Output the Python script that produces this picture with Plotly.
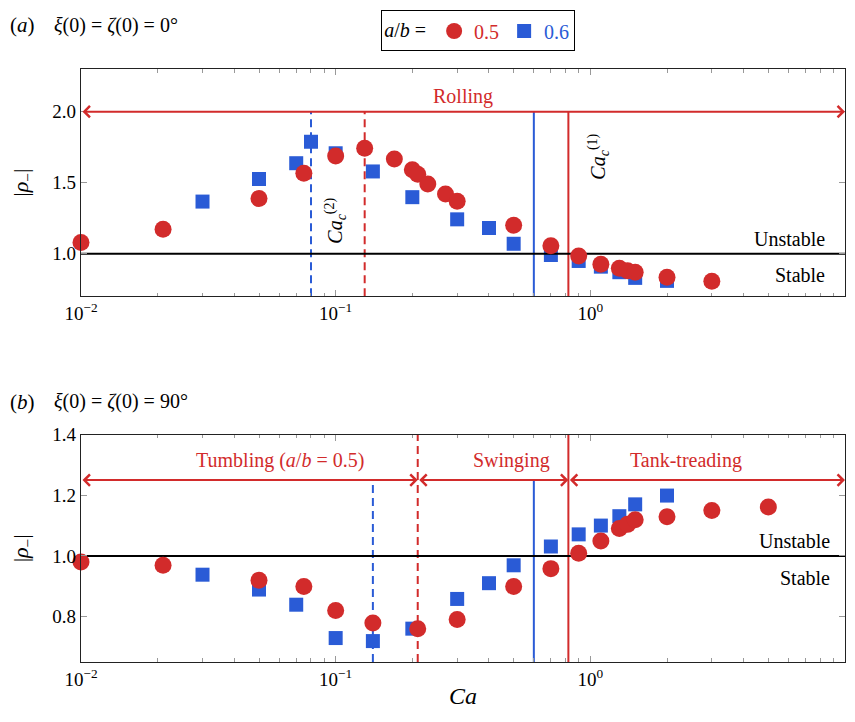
import numpy as np
import plotly.graph_objects as go

# ---------------- data ----------------
# panel (a): xi(0)=zeta(0)=0 deg
ca_a_05 = [0.01, 0.021, 0.05, 0.075, 0.1, 0.13, 0.17, 0.2, 0.21, 0.23, 0.27, 0.3,
           0.5, 0.7, 0.9, 1.1, 1.3, 1.4, 1.5, 2.0, 3.0]
rho_a_05 = [1.079, 1.172, 1.388, 1.567, 1.688, 1.742, 1.667, 1.591, 1.560, 1.491, 1.421, 1.370,
            1.200, 1.056, 0.984, 0.926, 0.898, 0.881, 0.870, 0.835, 0.807]
ca_a_06 = [0.03, 0.05, 0.07, 0.08, 0.1, 0.14, 0.2, 0.3, 0.4, 0.5, 0.7, 0.9, 1.1, 1.3, 1.5, 2.0]
rho_a_06 = [1.367, 1.526, 1.637, 1.788, 1.707, 1.579, 1.398, 1.242, 1.181, 1.070, 0.991,
            0.949, 0.909, 0.870, 0.830, 0.809]

# panel (b): xi(0)=zeta(0)=90 deg
ca_b_05 = [0.01, 0.021, 0.05, 0.075, 0.1, 0.14, 0.21, 0.3, 0.5, 0.7, 0.9, 1.1, 1.3, 1.4, 1.5,
           2.0, 3.0, 5.0]
rho_b_05 = [0.980, 0.969, 0.920, 0.899, 0.820, 0.779, 0.760, 0.790, 0.899, 0.958, 1.009,
            1.049, 1.090, 1.104, 1.119, 1.129, 1.150, 1.161]
ca_b_06 = [0.03, 0.05, 0.07, 0.1, 0.14, 0.2, 0.3, 0.4, 0.5, 0.7, 0.9, 1.1, 1.3, 1.5, 2.0]
rho_b_06 = [0.938, 0.889, 0.839, 0.729, 0.719, 0.760, 0.858, 0.910, 0.969, 1.031, 1.071,
            1.100, 1.131, 1.170, 1.199]

# critical capillary numbers
ca_c1 = {"0.5": 0.82, "0.6": 0.6}
ca_c2_a = {"0.5": 0.13, "0.6": 0.08}
ca_c2_b = {"0.5": 0.21, "0.6": 0.14}

x_range = [0.01, 10]
ya_range = [0.7, 2.3]
yb_range = [0.65, 1.4]
ya_ticks = [1.0, 1.5, 2.0]
yb_ticks = [0.8, 1.0, 1.2, 1.4]
x_ticks = [0.01, 0.1, 1, 10]
x_ticktext = ["10<sup>−2</sup>", "10<sup>−1</sup>", "10<sup>0</sup>", "10<sup>1</sup>"]
arrow_a = 2.0
arrow_b = 1.25

RED = "#D22B2B"
BLUE = "#2A5BD6"
FONT = "Liberation Serif"

fig = go.Figure()

def vline(x, y0, y1, color, dash, xa, ya):
    fig.add_trace(go.Scatter(x=[x, x], y=[y0, y1], mode="lines",
                             line=dict(color=color, width=2, dash=dash),
                             xaxis=xa, yaxis=ya, showlegend=False, hoverinfo="skip"))

# panel a vertical lines
vline(ca_c2_a["0.6"], ya_range[0], arrow_a, BLUE, "8px,5px", "x", "y")
vline(ca_c2_a["0.5"], ya_range[0], arrow_a, RED, "8px,5px", "x", "y")
vline(ca_c1["0.6"], ya_range[0], arrow_a, BLUE, "solid", "x", "y")
vline(ca_c1["0.5"], ya_range[0], arrow_a, RED, "solid", "x", "y")
# panel b vertical lines
vline(ca_c2_b["0.6"], yb_range[0], arrow_b, BLUE, "8px,5px", "x2", "y2")
vline(ca_c2_b["0.5"], yb_range[0], yb_range[1], RED, "8px,5px", "x2", "y2")
vline(ca_c1["0.6"], yb_range[0], arrow_b, BLUE, "solid", "x2", "y2")
vline(ca_c1["0.5"], yb_range[0], yb_range[1], RED, "solid", "x2", "y2")

red_m = dict(symbol="circle", size=17, color=RED, line=dict(width=0))
blue_m = dict(symbol="square", size=14, color=BLUE, line=dict(width=0))

for xa, ya, c6, r6, c5, r5, show in [("x", "y", ca_a_06, rho_a_06, ca_a_05, rho_a_05, True),
                                      ("x2", "y2", ca_b_06, rho_b_06, ca_b_05, rho_b_05, False)]:
    fig.add_trace(go.Scatter(x=c6, y=r6, mode="markers", marker=blue_m, xaxis=xa, yaxis=ya,
                             name=f'<span style="color:{BLUE}">0.6</span>', showlegend=show,
                             legendrank=2, cliponaxis=False))
    fig.add_trace(go.Scatter(x=x_range, y=[1, 1], mode="lines", line=dict(color="black", width=2),
                             xaxis=xa, yaxis=ya, showlegend=False, hoverinfo="skip"))
    fig.add_trace(go.Scatter(x=c5, y=r5, mode="markers", marker=red_m, xaxis=xa, yaxis=ya,
                             name=f'<span style="color:{RED}">0.5</span>', showlegend=show,
                             legendrank=1, cliponaxis=False))

axis_common = dict(showline=True, mirror="allticks", linecolor="#222", linewidth=1.3,
                   ticks="inside", tickcolor="#999", ticklen=6, tickwidth=1,
                   showgrid=False, zeroline=False, automargin=False,
                   tickfont=dict(family=FONT, size=19, color="black"))
minor_vals = [m * 10.0 ** e for e in (-2, -1, 0) for m in range(2, 10)]
xaxis_common = dict(axis_common, type="log", range=[np.log10(x_range[0]), np.log10(x_range[1])],
                    tickvals=x_ticks, ticktext=x_ticktext,
                    minor=dict(tickvals=minor_vals, ticks="inside", ticklen=3.5,
                               tickcolor="#999", tickwidth=1))

ytitle = dict(text="|<i>ρ</i><sub>−</sub>|", font=dict(size=22), standoff=22)
# page body adds an 8px margin; figure is sized so it fits the 855x722 window without scrolling
fig.update_layout(
    width=839, height=706,
    margin=dict(l=73, r=2, t=56, b=52),
    paper_bgcolor="white", plot_bgcolor="white",
    font=dict(family=FONT, size=20, color="black"),
    xaxis=dict(xaxis_common, anchor="y", domain=[0, 1]),
    yaxis=dict(axis_common, anchor="x", domain=[0.6166, 1], range=ya_range,
               tickvals=ya_ticks, ticktext=[f"{v:.1f}" for v in ya_ticks], title=ytitle),
    xaxis2=dict(xaxis_common, anchor="y2", domain=[0, 1]),
    yaxis2=dict(axis_common, anchor="x2", domain=[0, 0.3834], range=yb_range,
                tickvals=yb_ticks, ticktext=[f"{v:.1f}" for v in yb_ticks], title=ytitle),
    legend=dict(orientation="h", x=0.52, xanchor="center", y=1.0987, yanchor="top",
                bordercolor="black", borderwidth=1, bgcolor="white",
                title=dict(text="<i>a</i>/<i>b</i> =", font=dict(size=20)),
                font=dict(size=20), itemwidth=30, traceorder="normal"),
    showlegend=True,
)

ann = []
def txt(text, x, y, xref, yref, color="black", size=20, **kw):
    ann.append(dict(text=text, x=x, y=y, xref=xref, yref=yref, showarrow=False,
                    font=dict(family=FONT, size=size, color=color), **kw))

def arrow(x0, x1, y, xref, yref):
    ann.append(dict(text="", x=np.log10(x1), y=y, ax=np.log10(x0), ay=y, xref=xref, yref=yref,
                    axref=xref, ayref=yref, showarrow=True, arrowside="end+start",
                    arrowhead=4, startarrowhead=4, arrowsize=1.1, startarrowsize=1.1,
                    arrowwidth=2, arrowcolor=RED, standoff=0, startstandoff=0))

# panel a
arrow(x_range[0], x_range[1], arrow_a, "x", "y")
txt("Rolling", np.log10(0.316), 2.107, "x", "y", RED)
txt("Unstable", 0.976, 1.105, "x domain", "y", xanchor="right", yanchor="middle")
txt("Stable", 0.976, 0.848, "x domain", "y", xanchor="right", yanchor="middle")
txt("<i>Ca</i><sub><i>c</i></sub><sup>(2)</sup>", np.log10(0.1), 1.23, "x", "y", textangle=-90)
txt("<i>Ca</i><sub><i>c</i></sub><sup>(1)</sup>", np.log10(1.084), 1.685, "x", "y", textangle=-90)
# panel b
arrow(x_range[0], ca_c2_b["0.5"], arrow_b, "x2", "y2")
arrow(ca_c2_b["0.5"], ca_c1["0.5"], arrow_b, "x2", "y2")
arrow(ca_c1["0.5"], x_range[1], arrow_b, "x2", "y2")
txt("Tumbling (<i>a</i>/<i>b</i> = 0.5)", np.log10(0.0603), 1.315, "x2", "y2", RED)
txt("Swinging", np.log10(0.49), 1.315, "x2", "y2", RED)
txt("Tank-treading", np.log10(2.37), 1.315, "x2", "y2", RED)
txt("Unstable", 0.983, 1.049, "x2 domain", "y2", xanchor="right", yanchor="middle")
txt("Stable", 0.983, 0.928, "x2 domain", "y2", xanchor="right", yanchor="middle")

# x axis title
txt("<i>Ca</i>", 0.5, -0.058, "paper", "paper", size=24, yanchor="middle")

# panel headers
txt("(<i>a</i>)", -0.0955, 1.0736, "paper", "paper", xanchor="left", yanchor="middle", size=21)
txt("<i>ξ</i>(0) = <i>ζ</i>(0) = 0°", -0.038, 1.0736, "paper", "paper", xanchor="left",
    yanchor="middle", size=20)
txt("(<i>b</i>)", -0.0955, 0.439, "paper", "paper", xanchor="left", yanchor="middle", size=21)
txt("<i>ξ</i>(0) = <i>ζ</i>(0) = 90°", -0.038, 0.439, "paper", "paper", xanchor="left",
    yanchor="middle", size=20)

fig.update_layout(annotations=ann)
fig.write_html("out.html")
